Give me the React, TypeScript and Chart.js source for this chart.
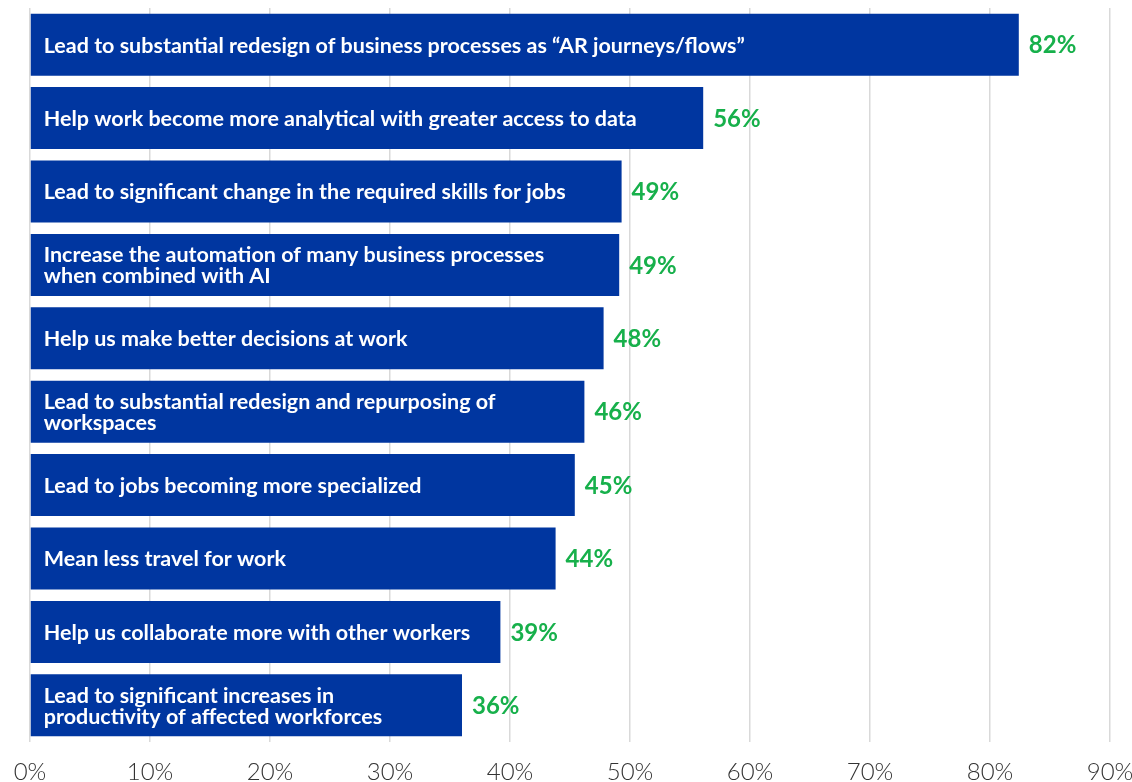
import React, { useEffect, useRef } from "react";
import { Chart, registerables } from "chart.js";

Chart.register(...registerables);

const categories: string[][] = [
  ["Lead to substantial redesign of business processes as \u201cAR journeys/flows\u201d"],
  ["Help work become more analytical with greater access to data"],
  ["Lead to significant change in the required skills for jobs"],
  ["Increase the automation of many business processes", "when combined with AI"],
  ["Help us make better decisions at work"],
  ["Lead to substantial redesign and repurposing of", "workspaces"],
  ["Lead to jobs becoming more specialized"],
  ["Mean less travel for work"],
  ["Help us collaborate more with other workers"],
  ["Lead to significant increases in", "productivity of affected workforces"],
];

const values: number[] = [82.4, 56.1, 49.3, 49.1, 47.8, 46.2, 45.4, 43.8, 39.2, 36.0];
const valueLabels: string[] = ["82%", "56%", "49%", "49%", "48%", "46%", "45%", "44%", "39%", "36%"];

const BAR_COLOR = "#0036a0";
const VALUE_COLOR = "#17b04b";
const FONT = "Lato, 'Noto Sans', sans-serif";

const labelPlugin = {
  id: "barLabels",
  afterDatasetsDraw(chart: any) {
    const ctx = chart.ctx;
    const meta = chart.getDatasetMeta(0);
    ctx.save();
    meta.data.forEach((bar: any, i: number) => {
      const lines = categories[i];
      const lh = 21;
      ctx.font = `bold 21.5px ${FONT}`;
      ctx.fillStyle = "#ffffff";
      ctx.textAlign = "left";
      ctx.textBaseline = "middle";
      const startY = bar.y - ((lines.length - 1) * lh) / 2;
      lines.forEach((ln, k) => {
        ctx.fillText(ln, bar.base + 13, startY + k * lh + 1);
      });
      ctx.font = `bold 24px ${FONT}`;
      ctx.fillStyle = VALUE_COLOR;
      ctx.fillText(valueLabels[i], bar.x + 10, bar.y + 1);
    });
    ctx.restore();
  },
};

export default function App() {
  const ref = useRef<HTMLCanvasElement | null>(null);
  useEffect(() => {
    document.body.style.margin = "0";
    const canvas = ref.current!;
    const chart = new Chart(canvas, {
      type: "bar",
      data: {
        labels: categories.map((c) => c.join(" ")),
        datasets: [
          {
            data: values,
            backgroundColor: BAR_COLOR,
            borderWidth: 0,
            barPercentage: 0.845,
            categoryPercentage: 1,
          },
        ],
      },
      options: {
        indexAxis: "y",
        responsive: false,
        animation: false,
        layout: { padding: { left: 30, right: 22, top: 8, bottom: 0 } },
        plugins: {
          legend: { display: false },
          tooltip: { enabled: false },
        },
        scales: {
          x: {
            min: 0,
            max: 90,
            afterFit: (scale: any) => {
              scale.paddingLeft = 0;
              scale.paddingRight = 0;
              scale.height = 40;
            },
            ticks: {
              stepSize: 10,
              callback: (v: any) => `${v}%`,
              color: "#333333",
              font: { family: FONT, size: 24, weight: "300" as any },
              padding: 16,
            },
            grid: { color: "#d9d9d9", lineWidth: 1.5, drawTicks: false },
            border: { display: false },
          },
          y: {
            display: false,
            grid: { display: false },
          },
        },
      },
      plugins: [labelPlugin],
    });
    return () => chart.destroy();
  }, []);
  return (
    <div style={{ width: 1132, height: 782 }}>
      <canvas ref={ref} width={1132} height={782} />
    </div>
  );
}
